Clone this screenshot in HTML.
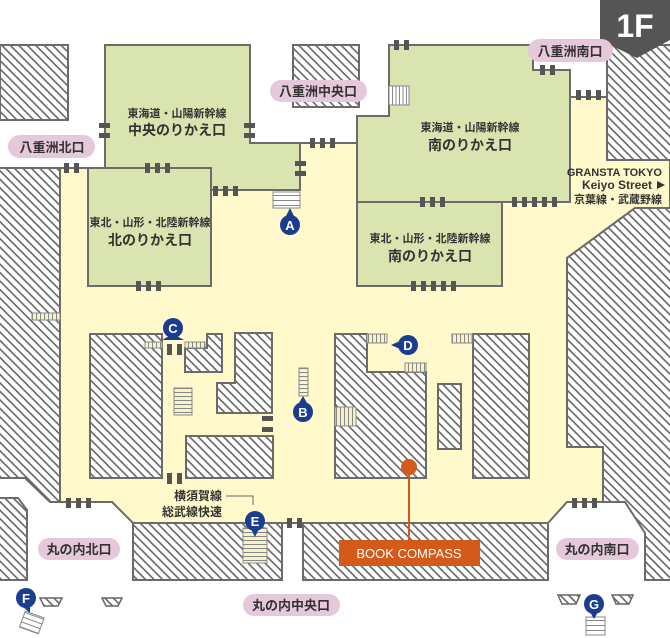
<!DOCTYPE html>
<html><head><meta charset="utf-8"><style>
html,body{margin:0;padding:0;background:#fff;}
svg{display:block;}
text{font-family:"Liberation Sans","Noto Sans CJK JP",sans-serif;fill:#333;}
</style></head><body>
<svg width="670" height="638" viewBox="0 0 670 638" xmlns="http://www.w3.org/2000/svg">
<defs>
<pattern id="h" patternUnits="userSpaceOnUse" width="6" height="6" patternTransform="rotate(45)">
<rect width="6" height="6" fill="#fff"/><rect x="0" y="0" width="6" height="1.6" fill="#666"/>
</pattern>
<pattern id="sh" patternUnits="userSpaceOnUse" width="4" height="4"><rect width="4" height="4" fill="#f7f3c8"/><rect width="4" height="1" fill="#888"/></pattern>
<pattern id="sv" patternUnits="userSpaceOnUse" width="4" height="4"><rect width="4" height="4" fill="#f7f3c8"/><rect width="1" height="4" fill="#888"/></pattern>
<pattern id="svw" patternUnits="userSpaceOnUse" width="3.5" height="4"><rect width="4" height="4" fill="#fff"/><rect width="1" height="4" fill="#888"/></pattern>
<pattern id="shw" patternUnits="userSpaceOnUse" width="4" height="5"><rect width="4" height="5" fill="#fff"/><rect width="4" height="1" fill="#888"/></pattern>
</defs>
<g stroke="#6b6b6b" stroke-width="2">
<polygon fill="#fff9cc" points="60,168 300,168 300,143 357,143 357,200 570,200 570,97 607,97 607,160 670,160 670,208 635,208 567,258 567,447 603,447 603,502 567,502 548,523 133,523 112,502 60,502"/>
<rect x="0" y="45" width="68" height="75" fill="url(#h)"/>
<rect x="293" y="45" width="66" height="62" fill="url(#h)"/>
<rect x="607" y="45" width="65" height="115" fill="url(#h)"/>
<polygon fill="url(#h)" points="-2,168 60,168 60,502 50,502 25,478 -2,478"/>
<polygon fill="url(#h)" points="-2,498 18,498 27,510 27,580 -2,580"/>
<polygon fill="url(#h)" points="567,258 635,208 672,208 672,580 645,580 645,533 625,502 603,502 603,447 567,447"/>
<rect x="133" y="523" width="149" height="57" fill="url(#h)"/>
<rect x="303" y="523" width="245" height="57" fill="url(#h)"/>
<rect x="90" y="334" width="72" height="144" fill="url(#h)"/>
<polygon fill="url(#h)" points="185,348 207,348 207,334 222,334 222,372 185,372"/>
<polygon fill="url(#h)" points="235,333 272,333 272,413 217,413 217,383 235,383"/>
<rect x="186" y="436" width="87" height="42" fill="url(#h)"/>
<polygon fill="url(#h)" points="335,334 367,334 367,372 426,372 426,478 335,478"/>
<rect x="438" y="384" width="23" height="65" fill="url(#h)"/>
<rect x="473" y="334" width="56" height="144" fill="url(#h)"/>
<polygon fill="#dae4b0" points="105,45 250,45 250,143 300,143 300,190 211,190 211,168 105,168"/>
<rect x="88" y="168" width="123" height="118" fill="#dae4b0"/>
<polygon fill="#dae4b0" points="389,45 533,45 533,70 570,70 570,202 357,202 357,116 389,116"/>
<rect x="357" y="202" width="145" height="84" fill="#dae4b0"/>
</g>
<g stroke="#888" stroke-width="1">
<rect x="273" y="192" width="27" height="16" fill="url(#shw)"/>
<rect x="389" y="86" width="20" height="19" fill="url(#svw)"/>
<rect x="32" y="313" width="28" height="7" fill="url(#sv)"/>
<rect x="145" y="342" width="17" height="6" fill="url(#sv)"/>
<rect x="185" y="342" width="20" height="6" fill="url(#sv)"/>
<rect x="174" y="388" width="18" height="27" fill="url(#sh)"/>
<rect x="299" y="368" width="9" height="28" fill="url(#sh)"/>
<rect x="367" y="334" width="20" height="9" fill="url(#sv)"/>
<rect x="405" y="363" width="21" height="9" fill="url(#sv)"/>
<rect x="452" y="334" width="20" height="9" fill="url(#sv)"/>
<rect x="335" y="407" width="21" height="19" fill="url(#sv)"/>
<rect x="243" y="528" width="24" height="35" fill="url(#sh)"/>
<rect x="22" y="614" width="20" height="17" fill="url(#shw)" transform="rotate(20 32 622)"/>
<rect x="586" y="617" width="19" height="18" fill="url(#shw)"/>
</g>
<g stroke="#666" stroke-width="1.5" fill="url(#h)">
<polygon points="40,598 62,598 58,606 44,606"/>
<polygon points="102,598 122,598 118,606 106,606"/>
<polygon points="558,595 580,595 576,604 562,604"/>
<polygon points="612,595 633,595 629,604 616,604"/>
</g>
<g fill="#555">
<rect x="64" y="163" width="5" height="10"/><rect x="74" y="163" width="5" height="10"/>
<rect x="145" y="163" width="5" height="10"/><rect x="155" y="163" width="5" height="10"/><rect x="165" y="163" width="5" height="10"/>
<rect x="136" y="281" width="5" height="10"/><rect x="146" y="281" width="5" height="10"/><rect x="156" y="281" width="5" height="10"/>
<rect x="213" y="186" width="5" height="10"/><rect x="223" y="186" width="5" height="10"/><rect x="233" y="186" width="5" height="10"/>
<rect x="99" y="123" width="11" height="5"/><rect x="99" y="133" width="11" height="5"/>
<rect x="244" y="123" width="11" height="5"/><rect x="244" y="133" width="11" height="5"/>
<rect x="295" y="161" width="11" height="5"/><rect x="295" y="171" width="11" height="5"/>
<rect x="310" y="138" width="5" height="10"/><rect x="320" y="138" width="5" height="10"/><rect x="330" y="138" width="5" height="10"/>
<rect x="394" y="40" width="5" height="10"/><rect x="404" y="40" width="5" height="10"/>
<rect x="540" y="65" width="5" height="10"/><rect x="550" y="65" width="5" height="10"/>
<rect x="576" y="90" width="5" height="10"/><rect x="586" y="90" width="5" height="10"/><rect x="596" y="90" width="5" height="10"/>
<rect x="420" y="197" width="5" height="10"/><rect x="430" y="197" width="5" height="10"/><rect x="440" y="197" width="5" height="10"/>
<rect x="512" y="197" width="5" height="10"/><rect x="522" y="197" width="5" height="10"/><rect x="532" y="197" width="5" height="10"/><rect x="542" y="197" width="5" height="10"/><rect x="552" y="197" width="5" height="10"/>
<rect x="411" y="281" width="5" height="10"/><rect x="421" y="281" width="5" height="10"/><rect x="431" y="281" width="5" height="10"/><rect x="441" y="281" width="5" height="10"/><rect x="451" y="281" width="5" height="10"/>
<rect x="167" y="344" width="5" height="11"/><rect x="177" y="344" width="5" height="11"/>
<rect x="167" y="473" width="5" height="11"/><rect x="177" y="473" width="5" height="11"/>
<rect x="262" y="416" width="11" height="5"/><rect x="262" y="427" width="11" height="5"/>
<rect x="66" y="498" width="5" height="10"/><rect x="76" y="498" width="5" height="10"/><rect x="86" y="498" width="5" height="10"/>
<rect x="287" y="518" width="5" height="10"/><rect x="297" y="518" width="5" height="10"/>
<rect x="572" y="498" width="5" height="10"/><rect x="582" y="498" width="5" height="10"/><rect x="592" y="498" width="5" height="10"/>
</g>
<polygon fill="#555" points="600,0 670,0 670,40 637,58 600,40"/>
<text x="635" y="37" font-size="32" font-weight="bold" text-anchor="middle" style="fill:#fff">1F</text>
<g fill="#e6c8db">
<rect x="8" y="135" width="87" height="23" rx="11.5"/>
<rect x="270" y="80" width="97" height="22" rx="11"/>
<rect x="528" y="39" width="85" height="23" rx="11.5"/>
<rect x="38" y="538" width="82" height="22" rx="11"/>
<rect x="243" y="594" width="97" height="22" rx="11"/>
<rect x="556" y="538" width="83" height="22" rx="11"/>
</g>
<g font-size="13" text-anchor="middle" font-weight="bold">
<text x="52" y="152">八重洲北口</text>
<text x="318" y="96">八重洲中央口</text>
<text x="570" y="56">八重洲南口</text>
<text x="79" y="554">丸の内北口</text>
<text x="291" y="610">丸の内中央口</text>
<text x="597" y="554">丸の内南口</text>
</g>
<g text-anchor="middle" font-weight="bold">
<text x="177" y="117" font-size="11">東海道・山陽新幹線</text>
<text x="177" y="135" font-size="14">中央のりかえ口</text>
<text x="150" y="226" font-size="11">東北・山形・北陸新幹線</text>
<text x="150" y="245" font-size="14">北のりかえ口</text>
<text x="470" y="131" font-size="11">東海道・山陽新幹線</text>
<text x="470" y="150" font-size="14">南のりかえ口</text>
<text x="430" y="242" font-size="11">東北・山形・北陸新幹線</text>
<text x="430" y="261" font-size="14">南のりかえ口</text>
</g>
<g text-anchor="end" font-size="11" font-weight="bold">
<text x="662" y="176">GRANSTA TOKYO</text>
<text x="652" y="189" font-size="12">Keiyo Street</text>
<text x="662" y="203">京葉線・武蔵野線</text>
</g>
<polygon points="657,181 665,185 657,189" fill="#333"/>
<g text-anchor="end" font-size="12" font-weight="bold">
<text x="222" y="500">横須賀線</text>
<text x="222" y="516">総武線快速</text>
</g>
<polyline points="226,496 253,496 253,505" fill="none" stroke="#666" stroke-width="1"/>
<g fill="#1a3d8f">
<circle cx="290" cy="225" r="10"/><polygon points="286,216 294,216 290,208"/>
<circle cx="303" cy="412" r="10"/><polygon points="299,403 307,403 303,396"/>
<circle cx="173" cy="328" r="10"/><polygon points="162,340 184,340 173,334"/>
<circle cx="408" cy="345" r="10"/><polygon points="400,341 400,349 391,345"/>
<circle cx="255" cy="521" r="10"/><polygon points="251,529 259,529 255,537"/>
<circle cx="26" cy="598" r="10"/><polygon points="22,606 30,606 30,613"/>
<circle cx="594" cy="604" r="10"/><polygon points="590,612 598,612 594,619"/>
</g>
<g font-size="13" font-weight="bold" text-anchor="middle">
<text x="290" y="230" style="fill:#fff">A</text>
<text x="303" y="417" style="fill:#fff">B</text>
<text x="173" y="333" style="fill:#fff">C</text>
<text x="408" y="350" style="fill:#fff">D</text>
<text x="255" y="526" style="fill:#fff">E</text>
<text x="26" y="603" style="fill:#fff">F</text>
<text x="594" y="609" style="fill:#fff">G</text>
</g>
<line x1="409" y1="467" x2="409" y2="541" stroke="#d35a1a" stroke-width="2"/>
<circle cx="409" cy="467" r="8" fill="#d35a1a"/>
<rect x="339" y="540" width="141" height="26" fill="#d35a1a"/>
<text x="409" y="558" font-size="13" text-anchor="middle" style="fill:#fff">BOOK COMPASS</text>
</svg>
</body></html>
